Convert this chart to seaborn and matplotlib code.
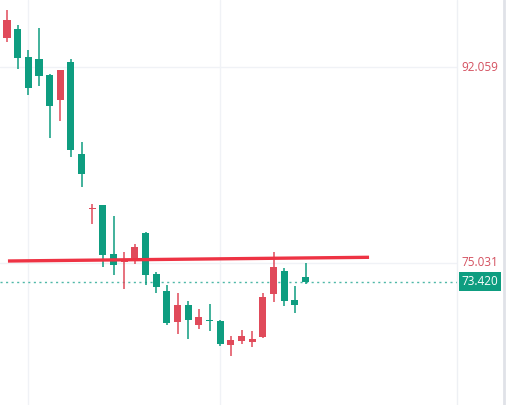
import numpy as np
import pandas as pd
import matplotlib
matplotlib.use("Agg")
import matplotlib.pyplot as plt
import seaborn as sns

sns.set_theme(style="white")
plt.rcParams["font.family"] = ["Open Sans", "DejaVu Sans"]

# ── Candle data ──────────────────────────────────────────────────────────────
opens = [94.58, 95.36, 92.93, 92.75, 91.36, 89.19, 92.49, 84.50, 79.70, 80.07,
         75.81, 75.12, 75.29, 77.64, 74.08, 72.60, 69.91, 71.38, 69.64, 70.02,
         69.99, 67.91, 68.25, 68.17, 68.60, 72.34, 74.34, 71.82, 73.80]
highs = [97.01, 95.71, 93.54, 95.45, 91.45, 91.80, 92.75, 85.54, 80.16, 80.07,
         79.11, 75.99, 76.68, 77.72, 74.25, 73.12, 72.42, 71.73, 71.03, 71.47,
         70.08, 68.69, 69.21, 69.12, 72.42, 75.99, 74.60, 73.03, 75.03]
lows = [94.23, 91.89, 89.63, 90.41, 85.89, 87.37, 84.24, 81.63, 78.42, 74.68,
        73.99, 72.77, 74.94, 73.12, 72.42, 69.64, 68.86, 68.43, 69.30, 69.12,
        67.82, 66.95, 67.99, 67.73, 68.52, 71.64, 71.30, 70.69, 73.21]
closes = [96.14, 92.84, 90.24, 91.28, 88.67, 91.80, 84.85, 82.76, 79.75, 75.73,
          74.86, 75.29, 76.42, 73.99, 72.95, 69.82, 71.38, 70.08, 70.34, 69.97,
          67.99, 68.34, 68.69, 68.43, 72.08, 74.68, 71.73, 71.38, 73.42]

level_x = [0.09, 33.96]
level_y = [75.204, 75.526]
last_price = 73.420
axis_labels = [92.059, 75.031]

df = pd.DataFrame({"open": opens, "high": highs, "low": lows, "close": closes})
df["idx"] = np.arange(len(df))
df["up"] = df["close"] >= df["open"]

UP = "#e04a5a"
DOWN = "#0e9d80"

fig = plt.figure(figsize=(5.13, 4.05), dpi=100)
ax = fig.add_axes([0, 0, 457 / 513, 1])
ax.set_xlim(-0.657, 42.21)
ax.set_ylim(62.694, 97.880)

# grid
for gx in [2, 20]:
    ax.axvline(gx, color="#f0f2f6", linewidth=1, zorder=0)
for gy in axis_labels:
    ax.axhline(gy, color="#f0f2f6", linewidth=1, zorder=0)

# candles
colors = np.where(df["up"], UP, DOWN)
ax.vlines(df["idx"], df["low"], df["high"], colors=colors, linewidth=1.1, zorder=2)
body_lo = np.minimum(df["open"], df["close"])
body_h = np.maximum((df["close"] - df["open"]).abs(), 0.12)
ax.bar(df["idx"], body_h, bottom=body_lo, width=0.66, color=colors, linewidth=0, zorder=3)

# horizontal level
ax.plot(level_x, level_y, color="#ee3344", linewidth=2.4, solid_capstyle="butt", zorder=4)

# last price dotted line
ax.axhline(last_price, color="#4fb8a8", linewidth=1, linestyle=(0, (1.5, 2.5)), zorder=1)

for s in ax.spines.values():
    s.set_visible(False)
ax.set_xticks([])
ax.set_yticks([])

# price axis panel
fig.add_artist(plt.Line2D([457 / 513] * 2, [0, 1], color="#eef0f4", linewidth=1))
fig.add_artist(plt.Line2D([504 / 513] * 2, [0, 1], color="#e0e2e8", linewidth=2))


def to_fig_y(price):
    return (price - 62.694) / (97.880 - 62.694)


for val in axis_labels:
    fig.text(480 / 513, to_fig_y(val), f"{val:.3f}", color="#d4505f", fontsize=8.5,
             ha="center", va="center")
fig.text(480 / 513, to_fig_y(last_price), f"{last_price:.3f}", color="white", fontsize=8.5,
         ha="center", va="center",
         bbox=dict(boxstyle="square,pad=0.25", facecolor=DOWN, edgecolor="none"))

plt.savefig("out.png", dpi=100)
